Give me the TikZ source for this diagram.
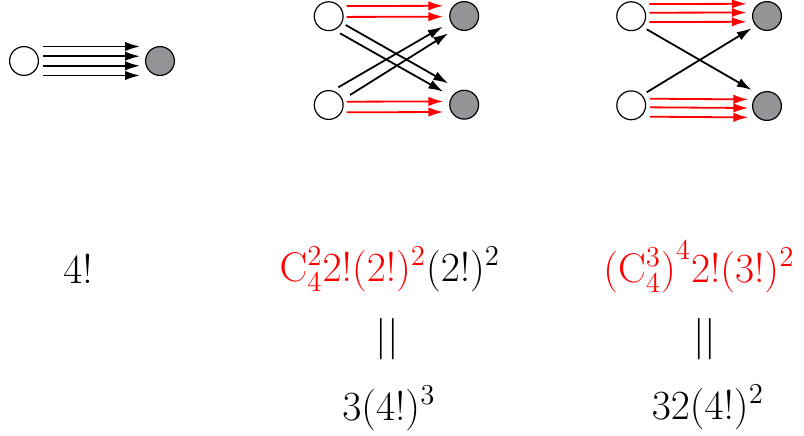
\documentclass[tikz,border=0pt]{standalone}
\usetikzlibrary{arrows.meta,calc}
\definecolor{nodegray}{RGB}{148,148,152}
\begin{document}
\begin{tikzpicture}[x=0.4164pt,y=-0.4164pt,
  wnode/.style={circle,draw=black,line width=0.5pt,fill=white,minimum size=12pt,inner sep=0pt},
  gnode/.style={wnode,fill=nodegray},
  arr/.style={line width=0.75pt,-{Latex[length=6.2pt,width=3.9pt]}},
  rarr/.style={arr,color=red},
  txt/.style={font=\fontsize{17.28}{20}\selectfont,inner sep=0pt,anchor=base}]
\useasboundingbox (0,0) rectangle (804,435);
% diagram 1
\node[wnode] (w1) at (24,61) {};
\node[gnode] (g1) at (160,61) {};
\foreach \dy in {-14.5,-4.8,4.8,14.5}
  \draw[arr] ($(w1)+(19.3,\dy)$) -- ($(g1)+(-20,\dy)$);
% diagram 2
\node[wnode] (w2a) at (328.7,16.2) {};
\node[gnode] (g2a) at (464.2,16) {};
\node[wnode] (w2b) at (328.7,105) {};
\node[gnode] (g2b) at (464.2,104.7) {};
\foreach \dy in {-10.2,0.7}
  \draw[rarr] ($(w2a)+(18,\dy)$) -- ($(g2a)+(-20.9,\dy)$);
\foreach \dy in {-3.3,7.3}
  \draw[rarr] ($(w2b)+(18,\dy)$) -- ($(g2b)+(-20.9,\dy)$);
\draw[arr] ($(w2a)+(17,8.8)$) -- ($(g2b)+(-15.9,-21.4)$);
\draw[arr] ($(w2a)+(11.3,17.1)$) -- ($(g2b)+(-20.9,-13)$);
\draw[arr] ($(w2b)+(9.6,-17.7)$) -- ($(g2a)+(-21.5,10.7)$);
\draw[arr] ($(w2b)+(21.3,-10)$) -- ($(g2a)+(-15.9,17.3)$);
% diagram 3
\node[wnode] (w3a) at (631.2,16.2) {};
\node[gnode] (g3a) at (767,16) {};
\node[wnode] (w3b) at (631.2,105.3) {};
\node[gnode] (g3b) at (767,106) {};
\foreach \dy in {-12.2,-3.5,5.8}
  \draw[rarr] ($(w3a)+(18.1,\dy)$) -- ($(g3a)+(-20.3,\dy)$);
\foreach \dy in {-6.6,2,11.4}
  \draw[rarr] ($(w3b)+(18.8,\dy)$) -- ($(g3b)+(-18.7,\dy)$);
\draw[arr] ($(w3a)+(15.5,13.1)$) -- ($(g3b)+(-15.3,-16)$);
\draw[arr] ($(w3b)+(15.5,-13)$) -- ($(g3a)+(-15.3,12.3)$);
% texts
\node[txt] (t1) at (78,283) {$4!$};
\node[txt] (t2) at (390,281) {$\textcolor{red}{\mathrm{C}_4^2 2!(2!)^2}(2!)^2$};
\node[txt] (e2) at (387.5,349.4) {$||$};
\node[txt] (r2) at (389,420) {$3(4!)^3$};
\node[txt] (t3) at (699,282) {$\textcolor{red}{{(\mathrm{C}_4^3)}^4 2!(3!)^2}$};
\node[txt] (e3) at (705,349.4) {$||$};
\node[txt] (r3) at (708,419) {$32(4!)^2$};
\end{tikzpicture}
\end{document}
